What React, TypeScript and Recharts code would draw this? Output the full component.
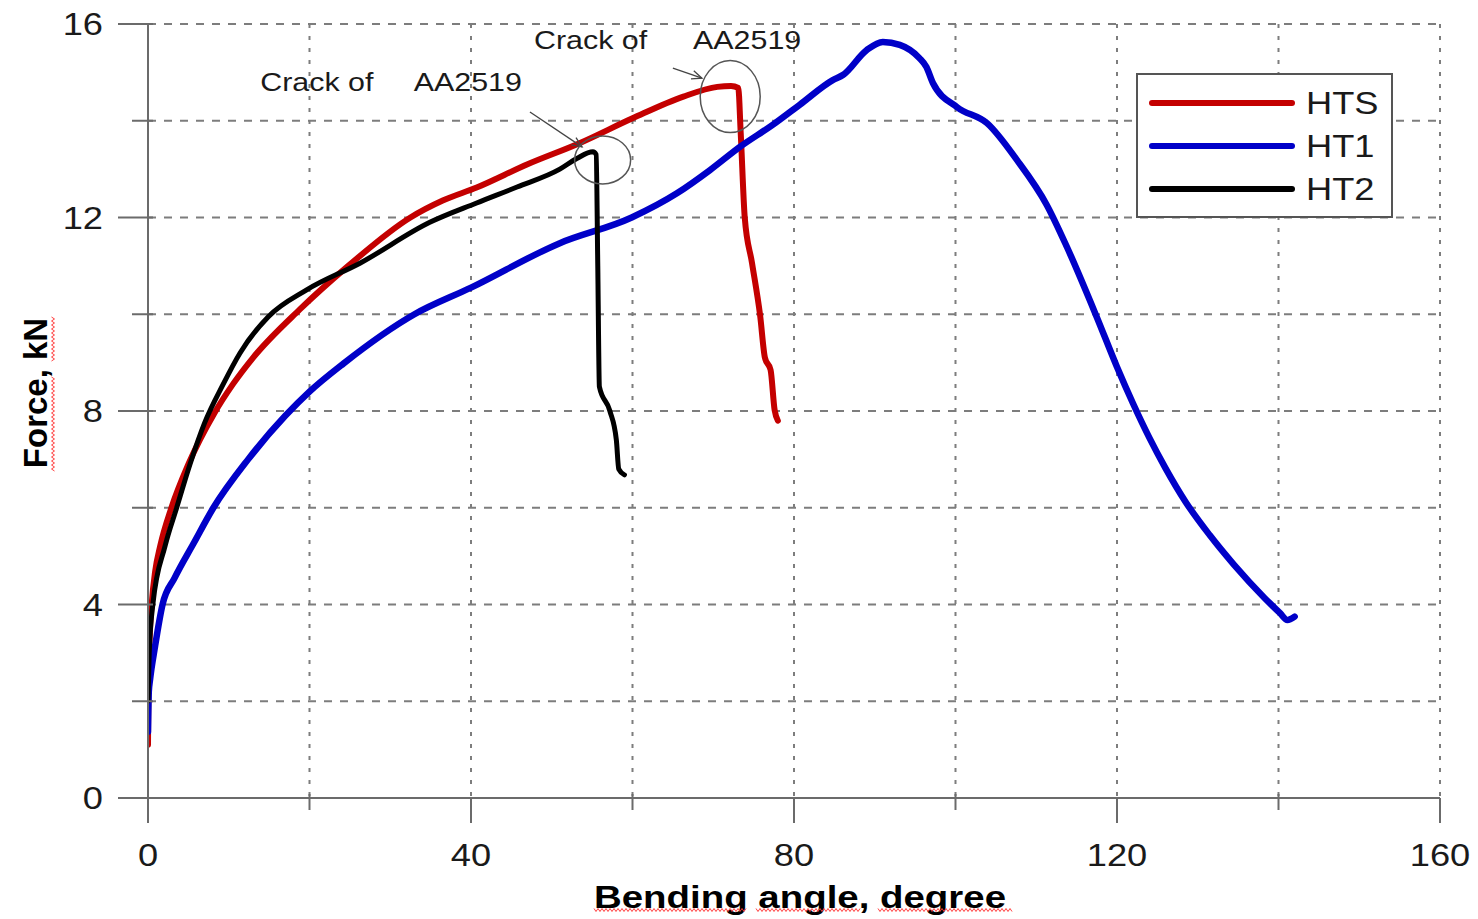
import {
  LineChart,
  Line,
  XAxis,
  YAxis,
  CartesianGrid,
  Legend,
  ReferenceDot,
  ReferenceLine,
} from 'recharts';

// bending angle (deg) vs force (kN)
const htsPoints = [
  { x: 0, y: 1.1 }, { x: 0.05, y: 2.4 }, { x: 0.2, y: 3.3 }, { x: 0.45, y: 4.0 },
  { x: 0.9, y: 4.7 }, { x: 1.5, y: 5.2 }, { x: 2.9, y: 6.0 }, { x: 5.0, y: 6.9 },
  { x: 8.2, y: 7.95 }, { x: 10.5, y: 8.55 }, { x: 13, y: 9.1 }, { x: 18.8, y: 10.1 },
  { x: 24.8, y: 11.0 }, { x: 32.5, y: 12.0 }, { x: 36.5, y: 12.35 }, { x: 40.7, y: 12.62 },
  { x: 47, y: 13.1 }, { x: 53.5, y: 13.54 }, { x: 60, y: 14.05 }, { x: 66.3, y: 14.5 },
  { x: 70.5, y: 14.7 }, { x: 72.2, y: 14.72 }, { x: 73.1, y: 14.68 }, { x: 73.4, y: 13.75 },
  { x: 73.9, y: 12.0 }, { x: 74.8, y: 11.06 }, { x: 75.8, y: 9.98 }, { x: 76.4, y: 9.1 },
  { x: 77.1, y: 8.85 }, { x: 77.6, y: 8.02 }, { x: 78, y: 7.8 },
];

const ht1Points = [
  { x: 0, y: 1.37 }, { x: 0.1, y: 2.2 }, { x: 0.25, y: 2.44 }, { x: 0.87, y: 3.13 },
  { x: 1.8, y: 4.0 }, { x: 3.3, y: 4.55 }, { x: 5.6, y: 5.25 }, { x: 8.1, y: 6.0 },
  { x: 12.4, y: 7.0 }, { x: 17, y: 7.9 }, { x: 20, y: 8.4 }, { x: 24.2, y: 8.98 },
  { x: 33, y: 10.0 }, { x: 40, y: 10.55 }, { x: 51, y: 11.47 }, { x: 59.9, y: 12.0 },
  { x: 65.5, y: 12.5 }, { x: 69.6, y: 12.98 }, { x: 73.3, y: 13.46 }, { x: 77.4, y: 13.92 },
  { x: 80.7, y: 14.33 }, { x: 84.8, y: 14.84 }, { x: 86.1, y: 14.95 }, { x: 89, y: 15.46 },
  { x: 91, y: 15.63 }, { x: 93.1, y: 15.57 }, { x: 95.5, y: 15.3 }, { x: 96.4, y: 15.11 },
  { x: 97.2, y: 14.78 }, { x: 100.2, y: 14.28 }, { x: 103.9, y: 13.95 }, { x: 107.6, y: 13.19 },
  { x: 111.3, y: 12.26 }, { x: 113.8, y: 11.39 }, { x: 117.5, y: 9.94 }, { x: 120, y: 8.91 },
  { x: 122, y: 8.15 }, { x: 124, y: 7.45 }, { x: 126, y: 6.82 }, { x: 128.5, y: 6.12 },
  { x: 131.5, y: 5.43 }, { x: 134.5, y: 4.82 }, { x: 138.3, y: 4.13 }, { x: 140.2, y: 3.82 },
  { x: 141.1, y: 3.68 }, { x: 142, y: 3.75 },
];

const ht2Points = [
  { x: 0, y: 2.0 }, { x: 0.15, y: 3.0 }, { x: 0.6, y: 4.0 }, { x: 2.1, y: 5.2 },
  { x: 3.55, y: 6.0 }, { x: 5.2, y: 6.9 }, { x: 7.0, y: 7.75 }, { x: 9.3, y: 8.55 },
  { x: 11.4, y: 9.2 }, { x: 14.9, y: 9.95 }, { x: 19.6, y: 10.5 }, { x: 26.3, y: 11.06 },
  { x: 34.9, y: 11.9 }, { x: 40.7, y: 12.3 }, { x: 45.7, y: 12.63 }, { x: 51, y: 13.0 },
  { x: 53.1, y: 13.22 }, { x: 55.1, y: 13.36 }, { x: 55.5, y: 13.3 }, { x: 55.7, y: 11.0 },
  { x: 55.9, y: 8.5 }, { x: 57.2, y: 8.0 }, { x: 58, y: 7.4 }, { x: 58.3, y: 6.8 },
  { x: 59, y: 6.68 },
];

const xTicks = [0, 20, 40, 60, 80, 100, 120, 140, 160];
const yTicks = [0, 2, 4, 6, 8, 10, 12, 14, 16];

const seriesNames = ['HTS', 'HT1', 'HT2'];

// annotation anchors, in data units
const crackTexts = [
  { x: 13.9, y: 14.8, text: 'Crack of' },
  { x: 32.9, y: 14.8, text: 'AA2519' },
  { x: 47.8, y: 15.67, text: 'Crack of' },
  { x: 67.5, y: 15.67, text: 'AA2519' },
];
const crackCircles = [
  { x: 56.3, y: 13.19, rx: 28, ry: 24 },
  { x: 72.1, y: 14.5, rx: 30, ry: 36 },
];
const crackArrows = [
  { x1: 47.3, y1: 14.18, x2: 53.75, y2: 13.46 },
  { x1: 65.0, y1: 15.09, x2: 68.6, y2: 14.88 },
];

const FONT = '"Liberation Sans", Arial, sans-serif';
const INK = '#1a1a1a';
const AXIS = '#6b6b6b';
const GRID = '#7d7d7d';
const STRETCH = 1.17;

const styles: Record<string, { color: string; width: number }> = {
  HTS: { color: '#c40000', width: 6 },
  HT1: { color: '#0000c8', width: 6.5 },
  HT2: { color: '#000000', width: 5 },
};

const StretchText = ({ x, y, anchor = 'start', size = 31, children }: any) => (
  <text
    transform={`translate(${x},${y}) scale(${STRETCH},1)`}
    textAnchor={anchor}
    dominantBaseline="central"
    fontSize={size}
    fontFamily={FONT}
    fill={INK}
  >
    {children}
  </text>
);

// spell-check style squiggle seen under the axis titles
const Squiggle = ({ x1, x2, y, vertical = false }: any) => {
  let d = '';
  for (let p = x1, k = 0; p <= x2; p += 2, k++) {
    const off = k % 2 === 0 ? -1.5 : 1.5;
    d += `${k === 0 ? 'M' : 'L'}${vertical ? y + off : p},${vertical ? p : y + off} `;
  }
  return <path d={d} fill="none" stroke="#ff4040" strokeWidth={1} />;
};

const YTick = ({ x, y, payload }: any) => {
  const major = payload.value % 4 === 0;
  return (
    <g>
      <line x1={x - (major ? 30 : 16)} x2={x + 5} y1={y} y2={y} stroke={AXIS} strokeWidth={2} />
      {major && <StretchText x={x - 45} y={y} anchor="end">{payload.value}</StretchText>}
    </g>
  );
};

const XTick = ({ x, y, payload }: any) => {
  const major = payload.value % 40 === 0;
  return (
    <g>
      <line x1={x} x2={x} y1={y - (major ? 0 : 4)} y2={y + (major ? 25 : 12)} stroke={AXIS} strokeWidth={2} />
      {major && <StretchText x={x} y={y + 57} anchor="middle">{payload.value}</StretchText>}
    </g>
  );
};

const XTitle = ({ viewBox }: any) => {
  const cx = viewBox.x + viewBox.width / 2 + 6;
  const cy = viewBox.y + 99;
  return (
    <g>
      <text
        x={cx}
        y={cy}
        textAnchor="middle"
        dominantBaseline="central"
        fontSize={32}
        fontWeight="bold"
        fontFamily={FONT}
        fill="#000"
        textLength={412}
        lengthAdjust="spacingAndGlyphs"
      >
        Bending angle, degree
      </text>
      <Squiggle x1={cx - 206} x2={cx - 54} y={cy + 13} />
      <Squiggle x1={cx - 44} x2={cx + 60} y={cy + 13} />
      <Squiggle x1={cx + 78} x2={cx + 212} y={cy + 13} />
    </g>
  );
};

const YTitle = ({ viewBox }: any) => {
  const cx = viewBox.x + 35;
  const cy = viewBox.y + viewBox.height / 2 - 18;
  return (
    <g>
      <text
        transform={`translate(${cx},${cy}) rotate(-90)`}
        textAnchor="middle"
        dominantBaseline="central"
        fontSize={33}
        fontWeight="bold"
        fontFamily={FONT}
        fill="#000"
      >
        Force, kN
      </text>
      <Squiggle x1={cy - 76} x2={cy - 31} y={cx + 18} vertical />
      <Squiggle x1={cy - 16} x2={cy + 79} y={cx + 18} vertical />
    </g>
  );
};

const LegendBox = () => (
  <svg width={257} height={145} style={{ display: 'block' }}>
    <rect x={1} y={1} width={255} height={143} fill="#fff" stroke="#555" strokeWidth={2} />
    {seriesNames.map((name, i) => {
      const cy = 30 + i * 43;
      return (
        <g key={name}>
          <line x1={16} x2={156} y1={cy} y2={cy} stroke={styles[name].color} strokeWidth={6} strokeLinecap="round" />
          <StretchText x={170} y={cy}>{name}</StretchText>
        </g>
      );
    })}
  </svg>
);

const ArrowShape = ({ x1, y1, x2, y2 }: any) => {
  const a = Math.atan2(y2 - y1, x2 - x1);
  const len = 11;
  const p1 = `${x2 - len * Math.cos(a - 0.4)},${y2 - len * Math.sin(a - 0.4)}`;
  const p2 = `${x2 - len * Math.cos(a + 0.4)},${y2 - len * Math.sin(a + 0.4)}`;
  return (
    <g>
      <line x1={x1} y1={y1} x2={x2} y2={y2} stroke="#444" strokeWidth={1.3} />
      <polyline points={`${p1} ${x2},${y2} ${p2}`} fill="none" stroke="#444" strokeWidth={1.3} />
    </g>
  );
};

const seriesData: Record<string, { x: number; y: number }[]> = {
  HTS: htsPoints,
  HT1: ht1Points,
  HT2: ht2Points,
};

export default function App() {
  return (
    <div style={{ position: 'absolute', left: 0, top: 0, background: '#fff' }}>
      <LineChart width={1478} height={919} margin={{ top: 24, right: 38, left: 0, bottom: 0 }}>
        <CartesianGrid vertical={false} stroke={GRID} strokeWidth={2} strokeDasharray="8 8" />
        <CartesianGrid horizontal={false} stroke={GRID} strokeWidth={2} strokeDasharray="4 8" />
        <XAxis
          type="number"
          dataKey="x"
          domain={[0, 160]}
          ticks={xTicks}
          interval={0}
          allowDataOverflow
          height={121}
          stroke={AXIS}
          strokeWidth={2}
          tickLine={false}
          tickSize={0}
          tickMargin={0}
          tick={<XTick />}
          label={XTitle}
        />
        <YAxis
          type="number"
          dataKey="y"
          domain={[0, 16]}
          ticks={yTicks}
          interval={0}
          allowDataOverflow
          width={148}
          stroke={AXIS}
          strokeWidth={2}
          tickLine={false}
          tickSize={0}
          tickMargin={0}
          tick={<YTick />}
          label={YTitle}
        />
        <Legend
          layout="vertical"
          align="center"
          verticalAlign="middle"
          content={() => <LegendBox />}
          wrapperStyle={{ left: 1136, top: 73, width: 257, height: 145 }}
        />
        {seriesNames.map((name) => (
          <Line
            key={name}
            name={name}
            data={seriesData[name]}
            dataKey="y"
            type="monotone"
            stroke={styles[name].color}
            strokeWidth={styles[name].width}
            strokeLinejoin="round"
            strokeLinecap="round"
            dot={false}
            activeDot={false}
            isAnimationActive={false}
          />
        ))}
        {crackCircles.map((c, i) => (
          <ReferenceDot
            key={`c${i}`}
            x={c.x}
            y={c.y}
            ifOverflow="visible"
            shape={(p: any) => (
              <ellipse cx={p.cx} cy={p.cy} rx={c.rx} ry={c.ry} fill="none" stroke="#555" strokeWidth={1.5} />
            )}
          />
        ))}
        {crackArrows.map((a, i) => (
          <ReferenceLine
            key={`a${i}`}
            segment={[{ x: a.x1, y: a.y1 }, { x: a.x2, y: a.y2 }]}
            ifOverflow="visible"
            shape={ArrowShape}
          />
        ))}
        {crackTexts.map((t, i) => (
          <ReferenceDot
            key={`t${i}`}
            x={t.x}
            y={t.y}
            ifOverflow="visible"
            shape={(p: any) => (
              <StretchText x={p.cx} y={p.cy} size={26}>{t.text}</StretchText>
            )}
          />
        ))}
      </LineChart>
    </div>
  );
}
